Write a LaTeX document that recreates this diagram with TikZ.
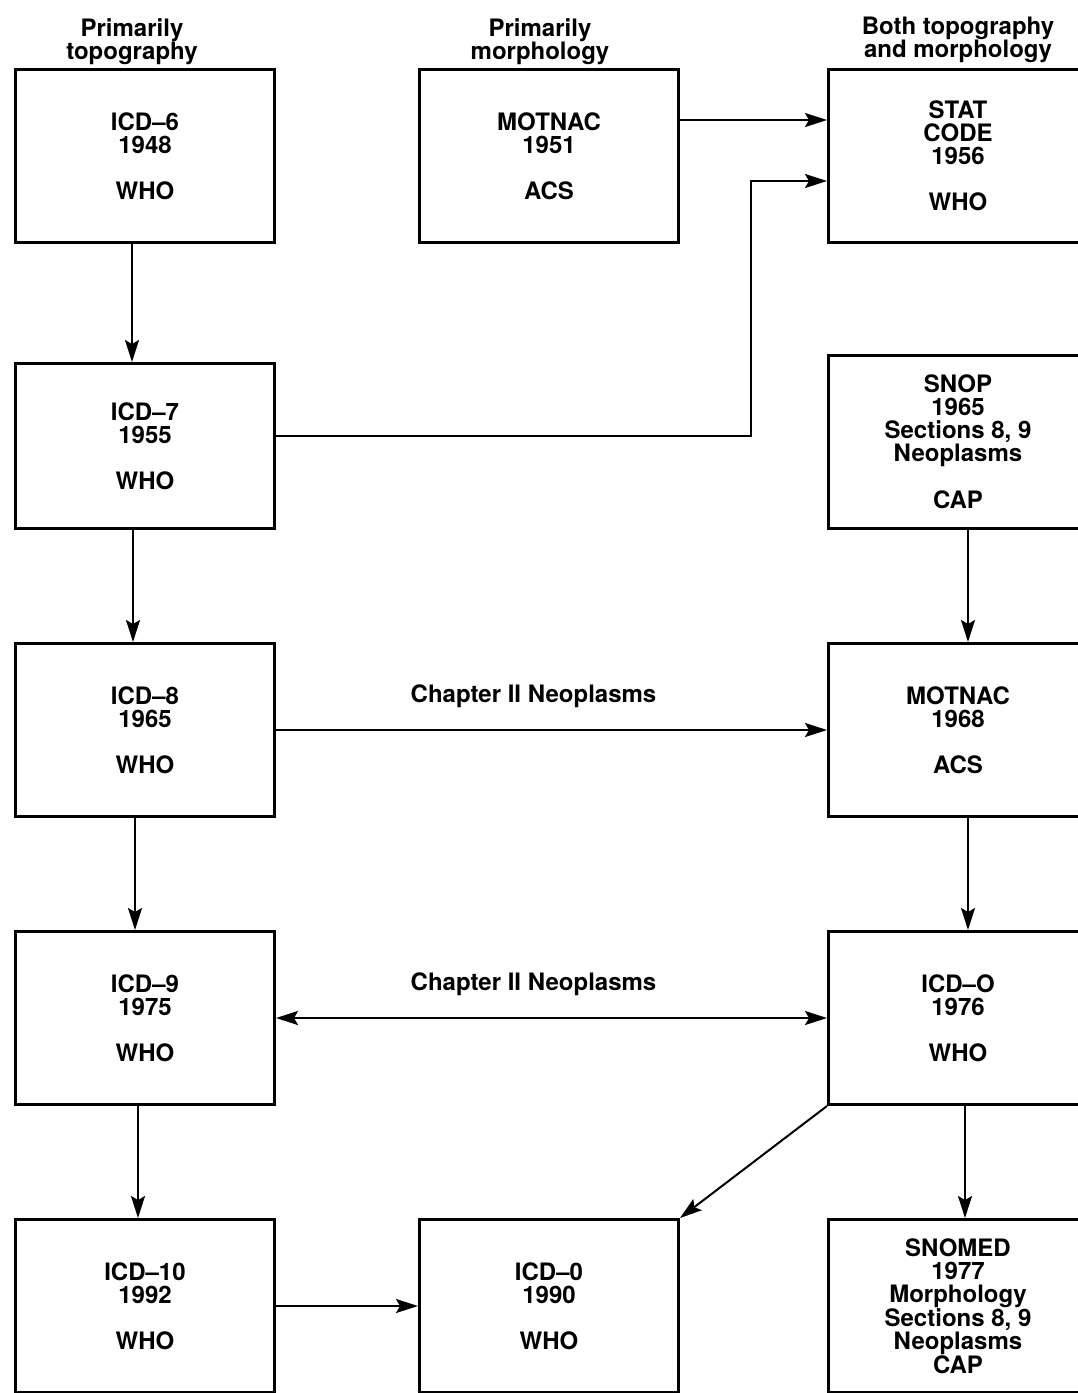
\documentclass[tikz,border=0pt]{standalone}
\usepackage{fontspec}
\setmainfont{TeX Gyre Heros}
\usepackage{tikz}
\usetikzlibrary{arrows.meta,positioning,calc}

\begin{document}
\begin{tikzpicture}[
    x=1pt, y=-1pt,
    every node/.style={font=\fontsize{24pt}{23pt}\selectfont\bfseries},
    node distance=112pt and 142pt,
    box/.style={rectangle, draw, line width=3pt, minimum width=259pt, minimum height=173pt, align=center, inner sep=0pt},
    head/.style={align=center, inner sep=0pt},
    lbl/.style={above=21pt, xshift=-18pt, inner sep=0pt},
    arrow/.style={->, >={Stealth[length=22pt, width=14pt, inset=4pt]}, line width=2pt}
]
    \useasboundingbox (0,0) rectangle (1078,1393);
    \clip (0,0) rectangle (1078,1393);

    % Both topography and morphology
    \node[box] (statcode) at (958,156) {STAT\\CODE\\1956\\[23pt]WHO};
    \node[box, below=110pt of statcode] (snop) {SNOP\\1965\\Sections 8, 9\\Neoplasms\\[23pt]CAP};
    \node[box, below=of snop] (motnac68) {MOTNAC\\1968\\[23pt]ACS};
    \node[box, below=of motnac68] (icdo76) {ICD--O\\1976\\[23pt]WHO};
    \node[box, below=of icdo76] (snomed) {SNOMED\\1977\\Morphology\\Sections 8, 9\\Neoplasms\\CAP};

    % Primarily topography
    \node[box] (icd6) at (145,156) {ICD--6\\1948\\[23pt]WHO};
    \node[box, below=118pt of icd6, minimum height=165pt] (icd7) {ICD--7\\1955\\[23pt]WHO};
    \node[box] (icd8) at (icd6 |- motnac68) {ICD--8\\1965\\[23pt]WHO};
    \node[box] (icd9) at (icd6 |- icdo76) {ICD--9\\1975\\[23pt]WHO};
    \node[box] (icd10) at (icd6 |- snomed) {ICD--10\\1992\\[23pt]WHO};

    % Primarily morphology
    \node[box, right=of icd6] (motnac51) {MOTNAC\\1951\\[23pt]ACS};
    \node[box, right=of icd10] (icd90) {ICD--0\\1990\\[23pt]WHO};

    % Column headings
    \node[head, above=3pt of icd6, xshift=-13pt] (hdtopo) {Primarily\\topography};
    \node[head, above=3pt of motnac51, xshift=-9pt] (hdmorph) {Primarily\\morphology};
    \node[head, above=5pt of statcode] (hdboth) {Both topography\\and morphology};

    % Down the columns
    \draw[arrow] ([xshift=-13pt]icd6.south) -- ([xshift=-13pt]icd7.north);
    \draw[arrow] ([xshift=-12pt]icd7.south) -- ([xshift=-12pt]icd8.north);
    \draw[arrow] ([xshift=-10pt]icd8.south) -- ([xshift=-10pt]icd9.north);
    \draw[arrow] ([xshift=-7pt]icd9.south) -- ([xshift=-7pt]icd10.north);
    \draw[arrow] ([xshift=10pt]snop.south) -- ([xshift=10pt]motnac68.north);
    \draw[arrow] ([xshift=10pt]motnac68.south) -- ([xshift=10pt]icdo76.north);
    \draw[arrow] ([xshift=7pt]icdo76.south) -- ([xshift=7pt]snomed.north);

    % Across
    \draw[arrow] ([yshift=36pt]motnac51.east) -- ([yshift=36pt]statcode.west);
    \draw[arrow] ([yshift=10pt]icd7.east) -| ([xshift=-76pt, yshift=-25pt]statcode.west) -- ([yshift=-25pt]statcode.west);
    \draw[arrow] (icd8) -- node[lbl] {Chapter II Neoplasms} (motnac68);
    \draw[arrow, <->] (icd9) -- node[lbl] {Chapter II Neoplasms} (icdo76);
    \draw[arrow] (icdo76.south west) -- (icd90.north east);
    \draw[arrow] (icd10) -- (icd90);

\end{tikzpicture}
\end{document}
